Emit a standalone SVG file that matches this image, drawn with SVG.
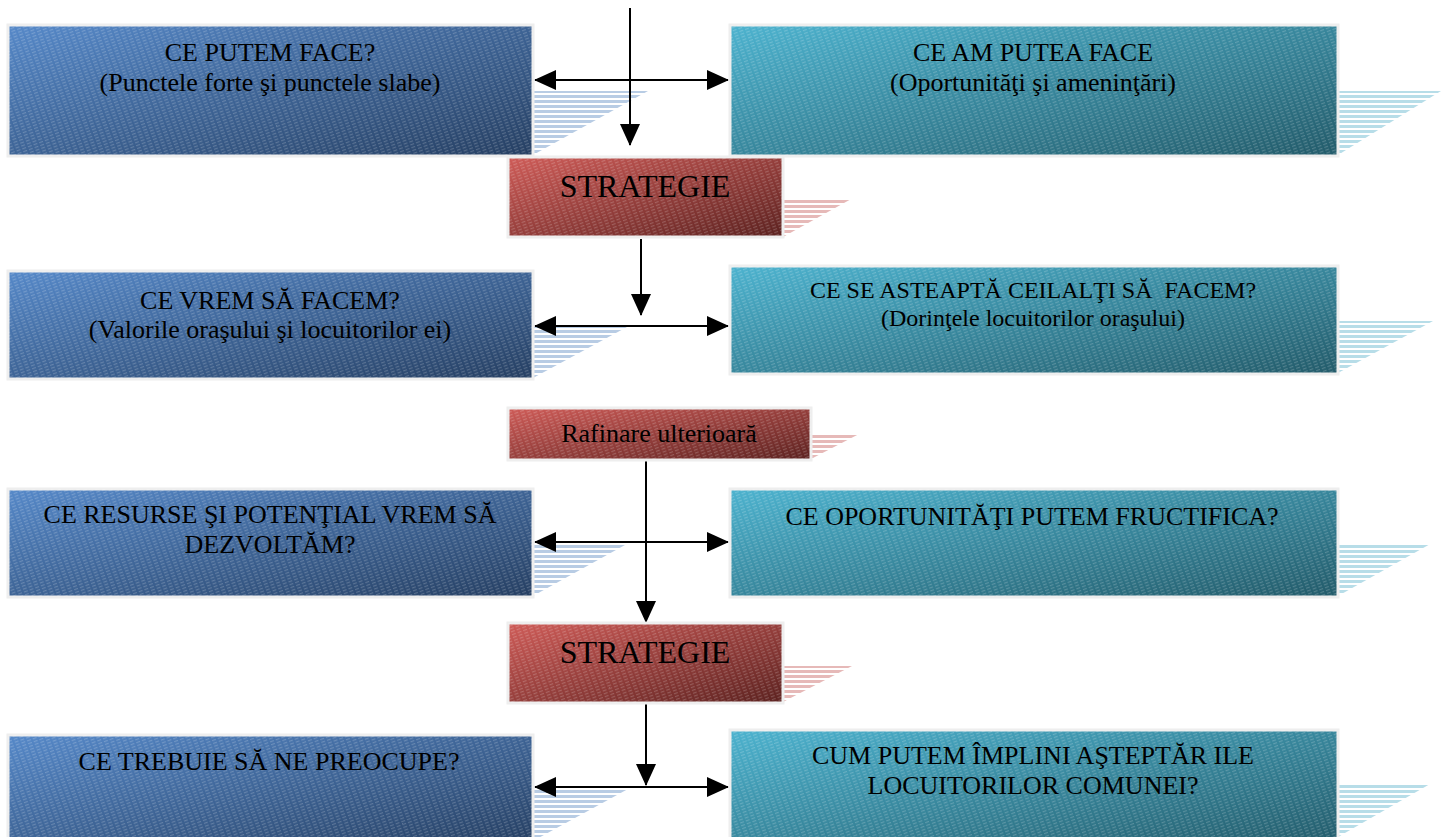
<svg xmlns="http://www.w3.org/2000/svg" width="1441" height="837" viewBox="0 0 1441 837">
<style>
text{font-family:"Liberation Serif","Times New Roman",serif;fill:#000;text-anchor:middle;white-space:pre}
.t26{font-size:26px}
.t24{font-size:24px}
.t32{font-size:32px}
.box{stroke:#eeeeee;stroke-width:3}
.conn{stroke:#000;stroke-width:2;fill:none}
</style>
<defs>
<linearGradient id="gBlue" x1="0" y1="0" x2="1" y2="1">
<stop offset="0" stop-color="#5689c9"/><stop offset="1" stop-color="#263f62"/>
</linearGradient>
<linearGradient id="gTeal" x1="0" y1="0" x2="1" y2="1">
<stop offset="0" stop-color="#4db3cf"/><stop offset="1" stop-color="#235b6a"/>
</linearGradient>
<linearGradient id="gRed" x1="0" y1="0" x2="1" y2="1">
<stop offset="0" stop-color="#cf5c58"/><stop offset="1" stop-color="#5c2220"/>
</linearGradient>
<pattern id="tex" width="6" height="3" patternUnits="userSpaceOnUse" patternTransform="rotate(-20)">
<rect x="0" y="0" width="4" height="1.2" fill="#ffffff" fill-opacity="0.2"/>
</pattern>
<pattern id="hBlue" width="10" height="5" patternUnits="userSpaceOnUse">
<rect x="0" y="0" width="10" height="3" fill="#b8cce4"/>
</pattern>
<pattern id="hTeal" width="10" height="5" patternUnits="userSpaceOnUse">
<rect x="0" y="0" width="10" height="3" fill="#b7dde8"/>
</pattern>
<pattern id="hRed" width="10" height="5" patternUnits="userSpaceOnUse">
<rect x="0" y="0" width="10" height="3" fill="#e6b9b8"/>
</pattern>
<marker id="ah" markerUnits="userSpaceOnUse" markerWidth="22" markerHeight="22" refX="21" refY="10" orient="auto-start-reverse" viewBox="0 0 22 20">
<path d="M0,0 L22,10 L0,20 z" fill="#000"/>
</marker>
</defs>

<g id="shadows">
<polygon points="533,91 648,91 533,155" fill="url(#hBlue)"/>
<polygon points="1338,91 1441,91 1338,155" fill="url(#hTeal)"/>
<polygon points="783,198 853,198 783,237" fill="url(#hRed)"/>
<polygon points="533,327 627,327 533,378" fill="url(#hBlue)"/>
<polygon points="1338,321 1433,321 1338,373" fill="url(#hTeal)"/>
<polygon points="811,434 859,434 811,459" fill="url(#hRed)"/>
<polygon points="533,545 625,545 533,596" fill="url(#hBlue)"/>
<polygon points="1338,543 1432,543 1338,596" fill="url(#hTeal)"/>
<polygon points="783,666 852,666 783,702" fill="url(#hRed)"/>
<polygon points="533,789 628,789 533,841" fill="url(#hBlue)"/>
<polygon points="1338,784 1430,784 1338,837" fill="url(#hTeal)"/>
</g>

<g id="connectors">
<line class="conn" x1="630" y1="8" x2="630" y2="145" marker-end="url(#ah)"/>
<line class="conn" x1="535" y1="80" x2="728" y2="80" marker-start="url(#ah)" marker-end="url(#ah)"/>
<line class="conn" x1="641" y1="239" x2="641" y2="315" marker-end="url(#ah)"/>
<line class="conn" x1="535" y1="326" x2="728" y2="326" marker-start="url(#ah)" marker-end="url(#ah)"/>
<line class="conn" x1="646" y1="461" x2="646" y2="622" marker-end="url(#ah)"/>
<line class="conn" x1="535" y1="542" x2="728" y2="542" marker-start="url(#ah)" marker-end="url(#ah)"/>
<line class="conn" x1="646" y1="704" x2="646" y2="785" marker-end="url(#ah)"/>
<line class="conn" x1="535" y1="787" x2="728" y2="787" marker-start="url(#ah)" marker-end="url(#ah)"/>
<line x1="546" y1="791.5" x2="551" y2="791.5" stroke="#000" stroke-width="1.5"/>
</g>

<g id="n1">
<rect class="box" x="8" y="25" width="525" height="131" fill="url(#gBlue)"/>
<rect x="8" y="25" width="525" height="131" fill="url(#tex)"/>
<text class="t26" x="270" y="61">CE PUTEM FACE?</text>
<text class="t26" x="270" y="91">(Punctele forte şi punctele slabe)</text>
</g>
<g id="n2">
<rect class="box" x="730" y="25" width="608" height="131" fill="url(#gTeal)"/>
<rect x="730" y="25" width="608" height="131" fill="url(#tex)"/>
<text class="t26" x="1033" y="61">CE AM PUTEA FACE</text>
<text class="t26" x="1033" y="91">(Oportunităţi şi ameninţări)</text>
</g>
<g id="n3">
<rect class="box" x="508" y="157" width="275" height="80" fill="url(#gRed)"/>
<rect x="508" y="157" width="275" height="80" fill="url(#tex)"/>
<text class="t32" x="645" y="197">STRATEGIE</text>
</g>
<g id="n4">
<rect class="box" x="8" y="271" width="525" height="108" fill="url(#gBlue)"/>
<rect x="8" y="271" width="525" height="108" fill="url(#tex)"/>
<text class="t26" x="270" y="309">CE VREM SĂ FACEM?</text>
<text class="t26" x="270" y="338">(Valorile oraşului şi locuitorilor ei)</text>
</g>
<g id="n5">
<rect class="box" x="730" y="266" width="608" height="108" fill="url(#gTeal)"/>
<rect x="730" y="266" width="608" height="108" fill="url(#tex)"/>
<text class="t24" x="1033" y="298">CE SE ASTEAPTĂ CEILALŢI SĂ  FACEM?</text>
<text class="t24" x="1033" y="326">(Dorinţele locuitorilor oraşului)</text>
</g>
<g id="n6">
<rect class="box" x="508" y="408" width="303" height="52" fill="url(#gRed)"/>
<rect x="508" y="408" width="303" height="52" fill="url(#tex)"/>
<text class="t26" x="659" y="442">Rafinare ulterioară</text>
</g>
<g id="n7">
<rect class="box" x="8" y="489" width="525" height="108" fill="url(#gBlue)"/>
<rect x="8" y="489" width="525" height="108" fill="url(#tex)"/>
<text class="t26" x="270" y="523">CE RESURSE ŞI POTENŢIAL VREM SĂ</text>
<text class="t26" x="270" y="553">DEZVOLTĂM?</text>
</g>
<g id="n8">
<rect class="box" x="730" y="489" width="608" height="108" fill="url(#gTeal)"/>
<rect x="730" y="489" width="608" height="108" fill="url(#tex)"/>
<text class="t26" x="1032" y="525">CE OPORTUNITĂŢI PUTEM FRUCTIFICA?</text>
</g>
<g id="n9">
<rect class="box" x="508" y="623" width="275" height="80" fill="url(#gRed)"/>
<rect x="508" y="623" width="275" height="80" fill="url(#tex)"/>
<text class="t32" x="645" y="663">STRATEGIE</text>
</g>
<g id="n10">
<rect class="box" x="8" y="735" width="525" height="110" fill="url(#gBlue)"/>
<rect x="8" y="735" width="525" height="110" fill="url(#tex)"/>
<text class="t26" x="269" y="770">CE TREBUIE SĂ NE PREOCUPE?</text>
</g>
<g id="n11">
<rect class="box" x="730" y="730" width="608" height="115" fill="url(#gTeal)"/>
<rect x="730" y="730" width="608" height="115" fill="url(#tex)"/>
<text class="t26" x="1033" y="764">CUM PUTEM ÎMPLINI AŞTEPTĂR ILE</text>
<text class="t26" x="1033" y="794">LOCUITORILOR COMUNEI?</text>
</g>
</svg>
